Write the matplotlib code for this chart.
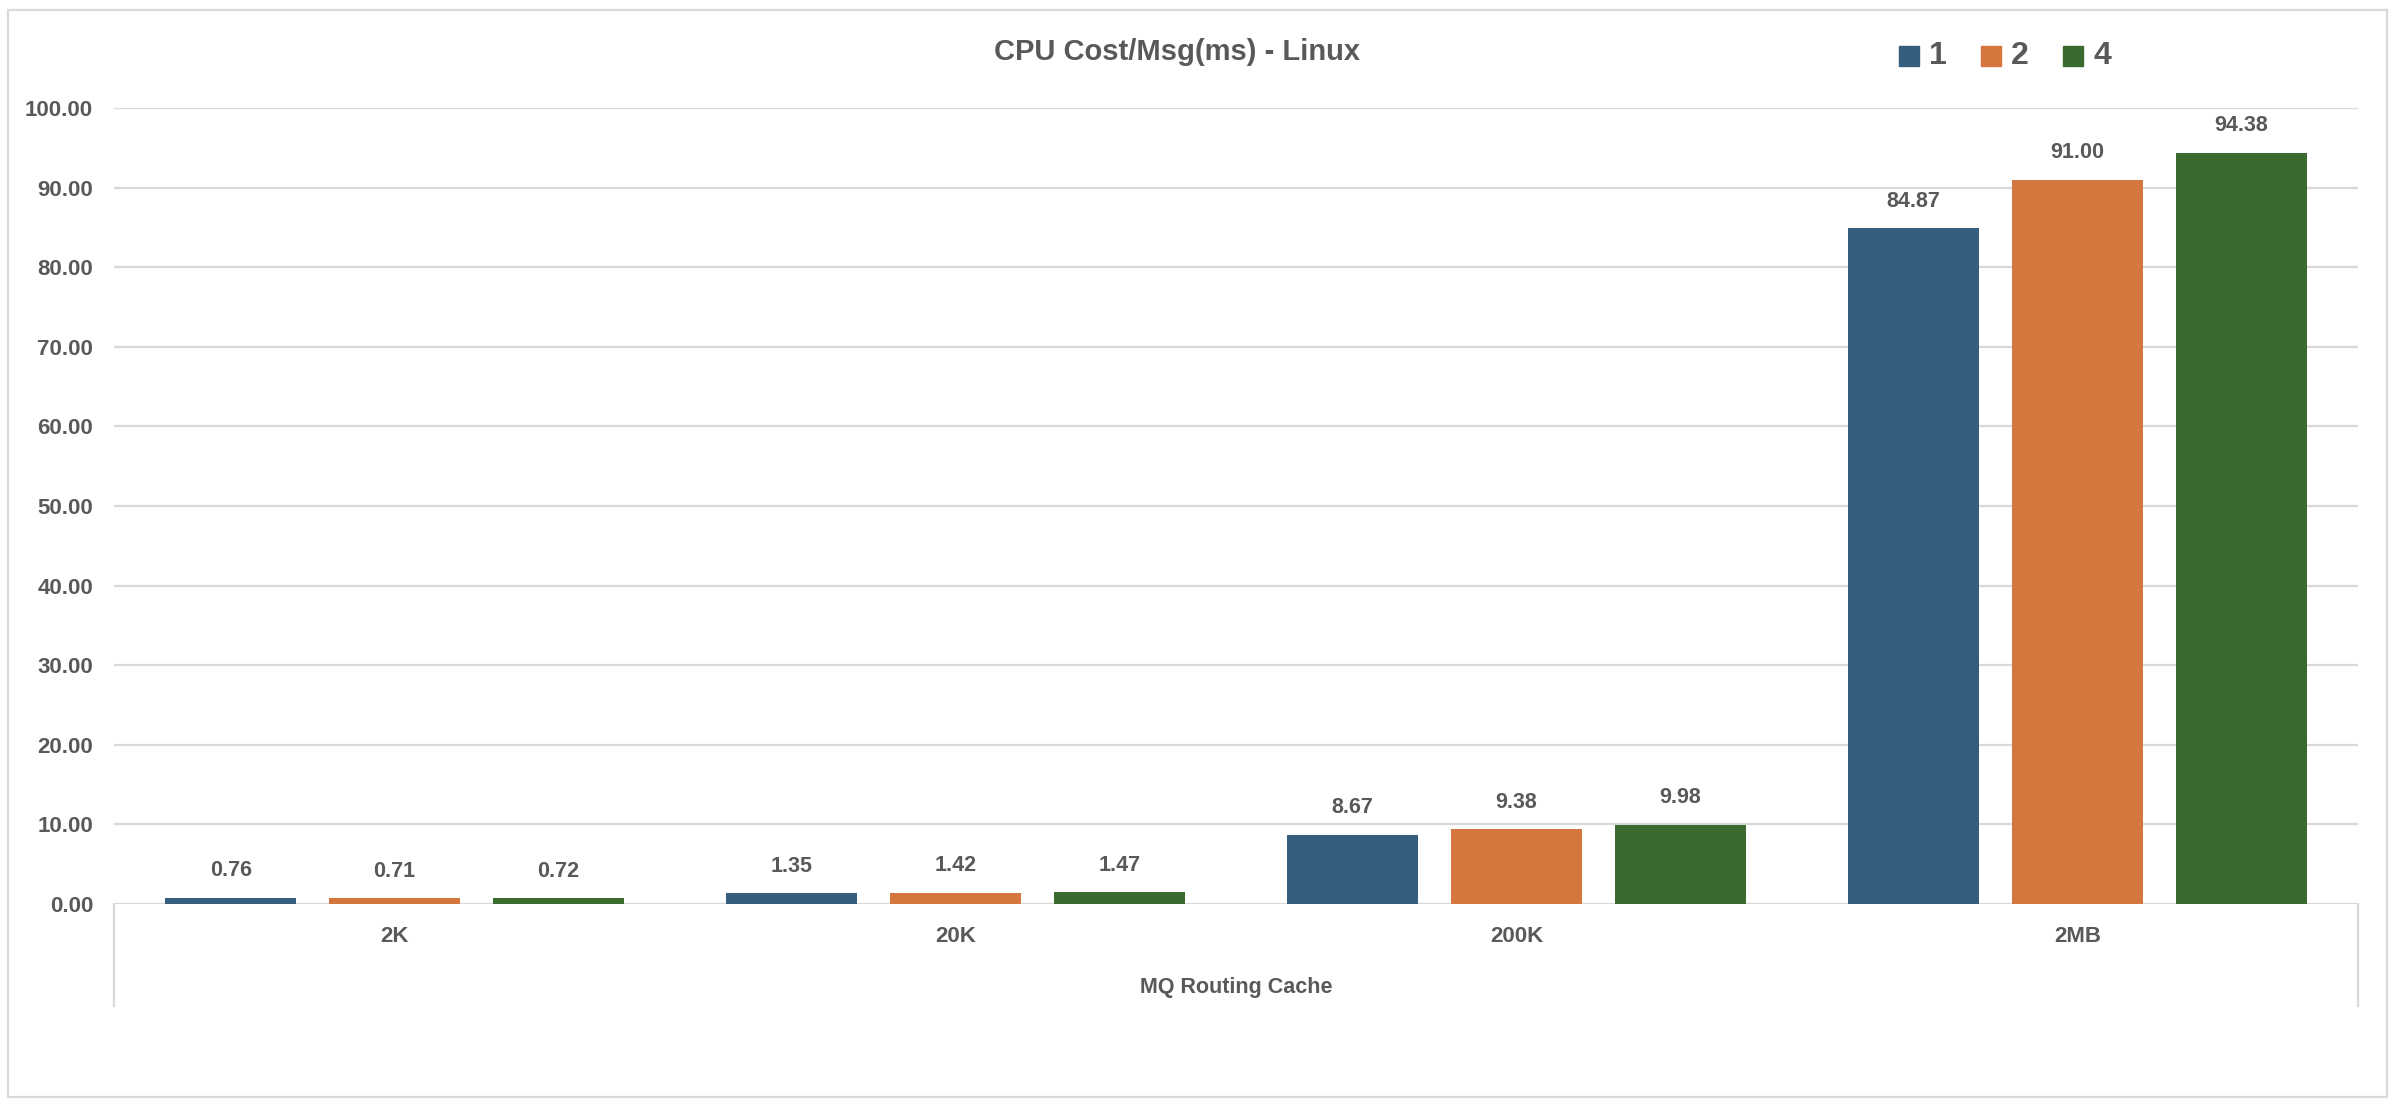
"""CPU cost per message on Linux, grouped bar chart."""

import matplotlib

matplotlib.use("Agg")
import matplotlib.pyplot as plt
from matplotlib.patches import Rectangle
from matplotlib.lines import Line2D
from matplotlib.transforms import blended_transform_factory
import numpy as np

CATEGORIES = ["2K", "20K", "200K", "2MB"]
SERIES = ["1", "2", "4"]
VALUES_1 = [0.76, 1.35, 8.67, 84.87]
VALUES_2 = [0.71, 1.42, 9.38, 91.00]
VALUES_4 = [0.72, 1.47, 9.98, 94.38]
Y_TICKS = [0, 10, 20, 30, 40, 50, 60, 70, 80, 90, 100]
TITLE = "CPU Cost/Msg(ms) - Linux"
GROUP_LABEL = "MQ Routing Cache"

COLORS = ["#355E7E", "#D5763F", "#3A6A2D"]
TEXT = "#595959"
GRID = "#D9D9D9"

W, H = 2396, 1110

plt.rcParams.update({
    "font.family": ["Liberation Sans Narrow", "Liberation Sans", "DejaVu Sans"],
    "font.weight": "bold",
})

fig = plt.figure(figsize=(W / 100, H / 100), dpi=100)
fig.patch.set_facecolor("white")

# axes box in pixel terms: x 114..2358, y 108..904 (from top)
ax = fig.add_axes([114 / W, 1 - 904 / H, (2358 - 114) / W, (904 - 108) / H])
ax.set_xlim(-0.5, 3.5)
ax.set_ylim(0, 100)
for side in ["top", "right", "left", "bottom"]:
    ax.spines[side].set_visible(False)
ax.set_yticks(Y_TICKS, [f"{v:.2f}" for v in Y_TICKS])
ax.tick_params(axis="y", length=0, pad=15, labelsize=16, labelcolor=TEXT)
ax.set_xticks([])
ax.yaxis.grid(True, color=GRID, linewidth=1.6)
ax.set_axisbelow(True)

x = np.arange(len(CATEGORIES))
width = 0.234
step = 0.292
for i, (name, vals) in enumerate(zip(SERIES, [VALUES_1, VALUES_2, VALUES_4])):
    pos = x + (i - 1) * step
    ax.bar(pos, vals, width=width, color=COLORS[i], zorder=3)
    for px, v in zip(pos, vals):
        ax.annotate(f"{v:.2f}", (px, v), xytext=(0, 27), textcoords="offset pixels",
                    ha="center", va="center", fontsize=15.5, color=TEXT, fontweight="bold")

# category labels and the group label below the axis
trans = blended_transform_factory(ax.transData, fig.transFigure)
for xi, cat in zip(x, CATEGORIES):
    ax.text(xi, 1 - 937 / H, cat, transform=trans, ha="center", va="center",
            fontsize=16, color=TEXT, fontweight="bold")
fig.text((114 + 2358) / 2 / W, 1 - 988 / H, GROUP_LABEL, ha="center", va="center",
         fontsize=15.5, color=TEXT, fontweight="bold")

# multi-level category box lines
for xp in [114, 2358]:
    fig.add_artist(Line2D([xp / W, xp / W], [1 - 904 / H, 1 - 1006 / H],
                          color=GRID, linewidth=1.6))

# title
fig.text(1177 / W, 1 - 52 / H, TITLE, ha="center", va="center", fontsize=21,
         color=TEXT, fontweight="bold")

# legend
legend_x = [1899, 1981, 2063]
for lx, name, col in zip(legend_x, SERIES, COLORS):
    fig.add_artist(Rectangle((lx / W, 1 - 66 / H), 20 / W, 20 / H, color=col,
                             transform=fig.transFigure))
    fig.text((lx + 30) / W, 1 - 56 / H, name, ha="left", va="center", fontsize=23,
             color=TEXT, fontweight="bold")

# outer chart border
fig.add_artist(Rectangle((8 / W, 1 - 1097 / H), (2387 - 8) / W, (1097 - 10) / H,
                         fill=False, edgecolor=GRID, linewidth=1.6,
                         transform=fig.transFigure))

fig.savefig("out.png", dpi=100, facecolor="white")
